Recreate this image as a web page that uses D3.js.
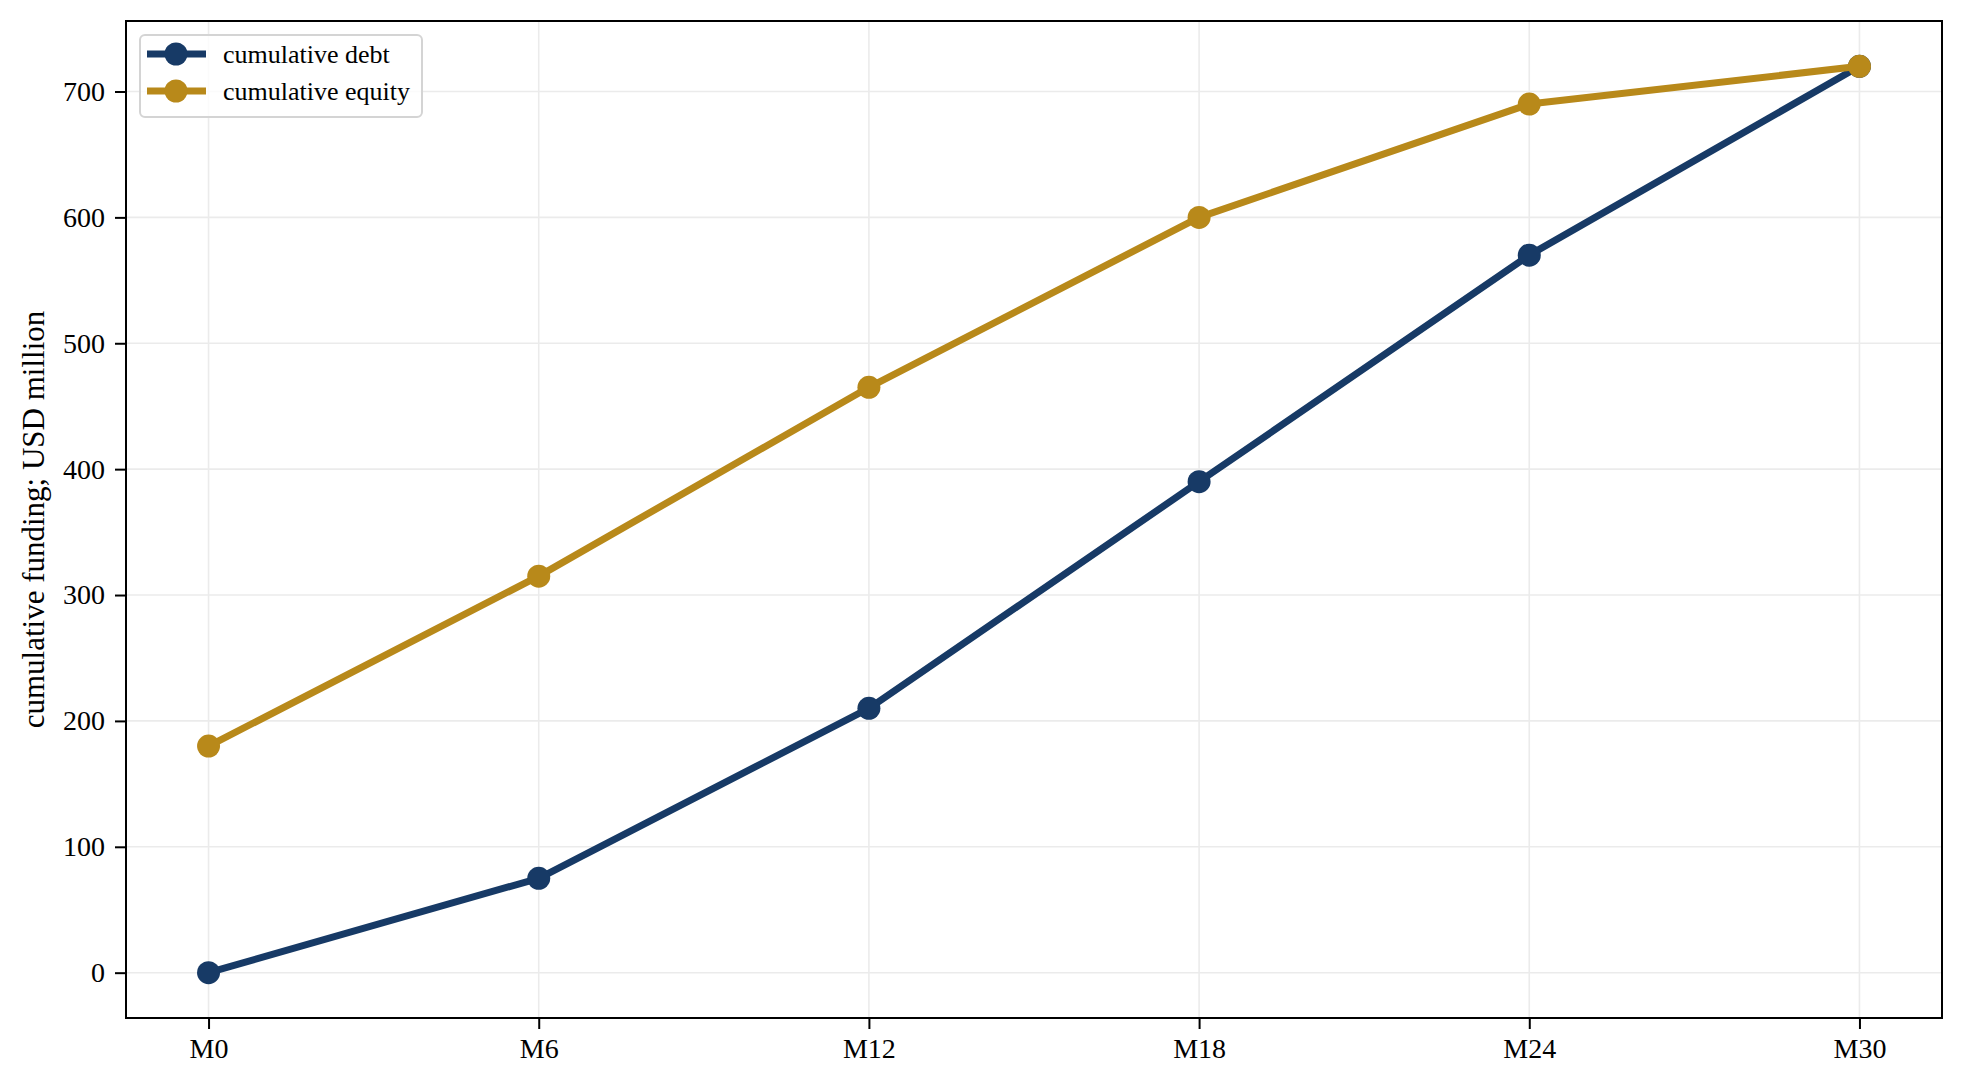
<!DOCTYPE html>
<html>
<head>
<meta charset="utf-8">
<script src="https://cdn.jsdelivr.net/npm/d3@7"></script>
<style>
  body { margin: 0; background: #fff; }
  svg { display: block; }
  text { font-family: "Liberation Serif", "Times New Roman", serif; }
</style>
</head>
<body>
<svg id="chart" width="1964" height="1087"></svg>
<script>
// ****** data ****** //
var months = ['M0', 'M6', 'M12', 'M18', 'M24', 'M30'];
var monthNums = [0, 6, 12, 18, 24, 30];
var debt = [0, 75, 210, 390, 570, 720];
var equity = [180, 315, 465, 600, 690, 720];
var yTicks = [0, 100, 200, 300, 400, 500, 600, 700];
var seriesNames = ['cumulative debt', 'cumulative equity'];
var seriesColors = ['#173a66', '#b8891a'];

// ****** layout ****** //
var svg = d3.select('#chart');
var margin = {left: 126, right: 1942, top: 21, bottom: 1018};
var fontStack = '"Liberation Serif", "Times New Roman", serif';

var x = d3.scaleLinear()
    .domain([-1.5, 31.5])
    .range([margin.left, margin.right]);

var y = d3.scaleLinear()
    .domain([-36, 756])
    .range([margin.bottom, margin.top]);

// grid
var grid = svg.append('g').attr('class', 'grid');
grid.selectAll('.gx')
    .data(monthNums)
    .enter().append('line')
    .attr('x1', d => x(d)).attr('x2', d => x(d))
    .attr('y1', margin.top).attr('y2', margin.bottom)
    .attr('stroke', '#ebebeb').attr('stroke-width', 1.6);
grid.selectAll('.gy')
    .data(yTicks)
    .enter().append('line')
    .attr('x1', margin.left).attr('x2', margin.right)
    .attr('y1', d => y(d)).attr('y2', d => y(d))
    .attr('stroke', '#ebebeb').attr('stroke-width', 1.6);

// axes
var xAxis = d3.axisBottom(x)
    .tickValues(monthNums)
    .tickFormat((d, i) => months[i])
    .tickSize(11)
    .tickPadding(9);

var yAxis = d3.axisLeft(y)
    .tickValues(yTicks)
    .tickSize(11)
    .tickPadding(10);

svg.append('g')
    .attr('transform', 'translate(0,' + margin.bottom + ')')
    .call(xAxis)
    .call(g => g.select('.domain').remove())
    .call(g => g.selectAll('line').attr('stroke', '#000').attr('stroke-width', 2))
    .call(g => g.selectAll('text').attr('font-size', 28).attr('fill', '#000')
        .attr('font-family', fontStack));

svg.append('g')
    .attr('transform', 'translate(' + margin.left + ',0)')
    .call(yAxis)
    .call(g => g.select('.domain').remove())
    .call(g => g.selectAll('line').attr('stroke', '#000').attr('stroke-width', 2))
    .call(g => g.selectAll('text').attr('font-size', 28).attr('fill', '#000')
        .attr('font-family', fontStack));

// frame
svg.append('rect')
    .attr('x', margin.left).attr('y', margin.top)
    .attr('width', margin.right - margin.left)
    .attr('height', margin.bottom - margin.top)
    .attr('fill', 'none').attr('stroke', '#000').attr('stroke-width', 2);

// y label
svg.append('text')
    .attr('transform', 'translate(44,' + ((margin.top + margin.bottom) / 2) + ') rotate(-90)')
    .attr('text-anchor', 'middle')
    .attr('font-size', 31)
    .text('cumulative funding; USD million');

// ****** series ****** //
var line = d3.line()
    .x((d, i) => x(monthNums[i]))
    .y(d => y(d));

[debt, equity].forEach(function(vals, s) {
    var g = svg.append('g').attr('class', 'series');
    g.append('path')
        .datum(vals)
        .attr('d', line)
        .attr('fill', 'none')
        .attr('stroke', seriesColors[s])
        .attr('stroke-width', 7)
        .attr('stroke-linejoin', 'round');
    g.selectAll('circle')
        .data(vals)
        .enter().append('circle')
        .attr('cx', (d, i) => x(monthNums[i]))
        .attr('cy', d => y(d))
        .attr('r', 11.5)
        .attr('fill', seriesColors[s]);
});

// ****** legend ****** //
var legend = svg.append('g').attr('class', 'legend');
legend.append('rect')
    .attr('x', 140).attr('y', 35)
    .attr('width', 282).attr('height', 82)
    .attr('rx', 5)
    .attr('fill', '#fff').attr('fill-opacity', 0.8)
    .attr('stroke', '#d4d4d4').attr('stroke-width', 2);

seriesNames.forEach(function(name, i) {
    var cy = 54 + i * 37;
    legend.append('line')
        .attr('x1', 147).attr('x2', 206)
        .attr('y1', cy).attr('y2', cy)
        .attr('stroke', seriesColors[i]).attr('stroke-width', 7);
    legend.append('circle')
        .attr('cx', 176).attr('cy', cy).attr('r', 11.5)
        .attr('fill', seriesColors[i]);
    legend.append('text')
        .attr('x', 223).attr('y', cy + 9)
        .attr('font-size', 26)
        .text(name);
});
</script>
</body>
</html>
